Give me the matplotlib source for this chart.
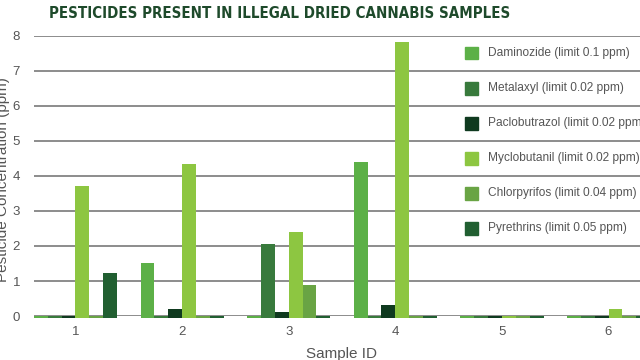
import matplotlib.pyplot as plt
import numpy as np

# data
samples = ['1', '2', '3', '4', '5', '6']
pesticides = ['Daminozide (limit 0.1 ppm)', 'Metalaxyl (limit 0.02 ppm)',
              'Paclobutrazol (limit 0.02 ppm)', 'Myclobutanil (limit 0.02 ppm)',
              'Chlorpyrifos (limit 0.04 ppm)', 'Pyrethrins (limit 0.05 ppm)']
daminozide = [0, 1.52, 0, 4.40, 0, 0]
metalaxyl = [0, 0, 2.07, 0, 0, 0]
paclobutrazol = [0, 0.19, 0.13, 0.32, 0, 0]
myclobutanil = [3.71, 4.34, 2.40, 7.82, 0, 0.20]
chlorpyrifos = [0, 0, 0.88, 0, 0, 0]
pyrethrins = [1.23, 0, 0, 0, 0, 0]
colors = ['#5cb047', '#387a3c', '#0f3a1f', '#8dc641', '#69a444', '#215f31']

series = [daminozide, metalaxyl, paclobutrazol, myclobutanil, chlorpyrifos, pyrethrins]

plt.rcParams['font.family'] = ['Liberation Sans', 'DejaVu Sans']

fig = plt.figure(figsize=(6.4, 3.6), dpi=100)
ax = fig.add_axes([0.053, 0.122, 0.947, 0.779])

x = np.arange(len(samples))
w = 0.13
strip = 0.06  # zero values show as thin strips at the baseline
for i, (vals, c) in enumerate(zip(series, colors)):
    vals = np.array(vals)
    ax.bar(x + (i - 2.5) * w, vals + strip, bottom=-strip, width=w, color=c,
           zorder=3, clip_on=False)

ax.set_ylim(0, 8)
ax.set_xlim(-0.39, 5.295)
ax.set_yticks(range(0, 9))
ax.set_xticks(x)
ax.set_xticklabels(samples)
ax.grid(axis='y', color='#8c8c8c', lw=1.4, zorder=1)
for s in ax.spines.values():
    s.set_visible(False)
ax.tick_params(length=0, colors='#555555', labelsize=9.5)
ax.tick_params(axis='y', pad=10)
ax.tick_params(axis='x', pad=7)
ax.set_xlabel('Sample ID', fontsize=11, color='#555555')
ax.xaxis.set_label_coords(0.507, -0.11)

fig.text(0.004, 0.5, 'Pesticide Concentration (ppm)', rotation=90, ha='center',
         va='center', fontsize=11, color='#555555')

# legend drawn as rows between gridlines
for i, (name, c) in enumerate(zip(pesticides, colors)):
    yv = 7.5 - i
    ax.add_patch(plt.Rectangle((3.653, yv - 0.18), 0.12, 0.36, color=c, zorder=4))
    ax.text(3.87, yv, name, va='center', ha='left', fontsize=8.6, color='#555555',
            zorder=4, clip_on=True)

fig.text(0.4375, 0.963, 'PESTICIDES PRESENT IN ILLEGAL DRIED CANNABIS SAMPLES',
         ha='center', va='center', fontsize=10.8, color='#1e4a2b',
         family='DejaVu Sans', stretch='condensed', weight='bold')

fig.savefig('out.png', dpi=100)
